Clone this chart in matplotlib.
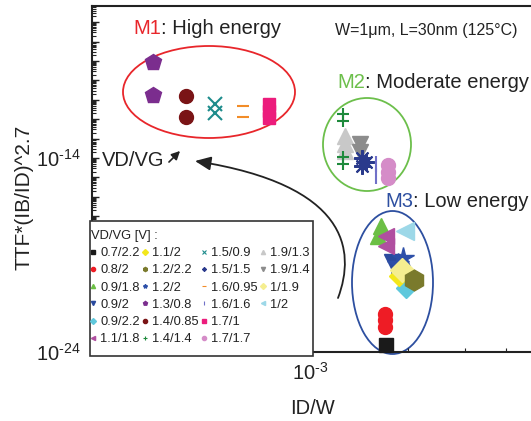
import numpy as np
import matplotlib
matplotlib.use('Agg')
import matplotlib.pyplot as plt
from matplotlib.lines import Line2D
from matplotlib.patches import Ellipse, FancyArrowPatch, Rectangle
from matplotlib.path import Path
from matplotlib.ticker import LogLocator, FuncFormatter, NullFormatter

plt.rcParams['font.family'] = ['Liberation Sans', 'DejaVu Sans']
plt.rcParams['mathtext.fontset'] = 'custom'
plt.rcParams['mathtext.rm'] = 'Liberation Sans'
plt.rcParams['mathtext.it'] = 'Liberation Sans:italic'
plt.rcParams['mathtext.bf'] = 'Liberation Sans:bold'

# ---------------- data ----------------
labels = ['0.7/2.2', '0.8/2', '0.9/1.8', '0.9/2', '0.9/2.2', '1.1/1.8',
          '1.1/2', '1.2/2.2', '1.2/2', '1.3/0.8', '1.4/0.85', '1.4/1.4',
          '1.5/0.9', '1.5/1.5', '1.6/0.95', '1.6/1.6', '1.7/1', '1.7/1.7',
          '1.9/1.3', '1.9/1.4', '1/1.9', '1/2']

x_vals = [
    [1.71e-3],
    [1.70e-3, 1.70e-3, 1.70e-3],
    [1.65e-3, 1.62e-3],
    [1.79e-3],
    [1.97e-3],
    [1.71e-3, 1.71e-3],
    [1.88e-3],
    [2.09e-3],
    [1.93e-3, 1.87e-3],
    [3.29e-4, 3.29e-4],
    [4.15e-4, 4.15e-4],
    [1.26e-3, 1.26e-3, 1.26e-3, 1.26e-3],
    [5.1e-4, 5.1e-4],
    [1.45e-3, 1.45e-3, 1.49e-3],
    [6.2e-4, 6.2e-4],
    [1.60e-3, 1.60e-3],
    [7.5e-4, 7.5e-4, 7.5e-4],
    [1.74e-3, 1.74e-3, 1.74e-3],
    [1.28e-3, 1.28e-3, 1.28e-3],
    [1.42e-3, 1.42e-3],
    [1.92e-3],
    [1.96e-3],
]

y_vals = [
    [2.3e-24],
    [9.1e-23, 4.5e-23, 1.9e-23],
    [3.1e-18, 9.5e-19],
    [4.4e-20],
    [2.0e-21],
    [9.5e-19, 2.9e-19],
    [8.3e-21],
    [5.1e-21],
    [7.0e-20, 3.5e-20],
    [8.9e-10, 1.8e-11],
    [1.6e-11, 1.3e-12],
    [1.9e-12, 8.1e-13, 1.1e-14, 4.9e-15],
    [6.0e-12, 2.1e-12],
    [1.0e-14, 3.9e-15, 6.2e-15],
    [4.8e-12, 1.3e-12],
    [4.9e-15, 1.2e-15],
    [6.0e-12, 2.6e-12, 1.15e-12],
    [4.4e-15, 1.9e-15, 9.3e-16],
    [1.35e-13, 5.2e-14, 2.3e-14],
    [5.2e-14, 2.0e-14],
    [1.7e-20],
    [1.7e-18],
]

# ---------------- styles ----------------
colors = ['#1a1a1a', '#ee1c25', '#6cbf45', '#2a4a9e', '#5fc8dc', '#b04fa0',
          '#f3e71c', '#7a7a2c', '#2d4fa8', '#7b2d8e', '#7a1416', '#1e8a3c',
          '#1e8c8c', '#2a3a8c', '#f28c28', '#7070c8', '#ec1c7c', '#d58cc8',
          '#c8c8c8', '#8c8c8c', '#f5ee90', '#9dd8e8']
markers = ['s', 'o', '^', 'v', 'D', '<', 'D', 'h', '*', 'p', 'o', '+',
           'x', (8, 2, 0), '_', '|', 's', 'o', '^', 'v', 'D', '<']
msizes = [10, 10, 12, 12, 10, 12, 10, 15, 16, 12, 10, 9,
          10, 12, 9, 12, 9, 10, 12, 12, 12, 13]
zorders = [3, 3, 3, 3, 3, 4, 4, 6, 3, 3, 3, 3,
           3, 4, 3, 3, 3, 3, 2, 3, 5, 3]
line_markers = {'+', 'x', '_', '|'}

W, H = 531, 421
fig = plt.figure(figsize=(W / 100, H / 100), dpi=100)
ax = fig.add_axes([92 / W, (H - 352) / H, (W - 92) / W, 346 / H])


def fx(px):
    return px / W


def fy(py):
    return 1 - py / H


for lab, xs, ys, c, m, s, z in zip(labels, x_vals, y_vals, colors, markers, msizes, zorders):
    if m in line_markers or isinstance(m, tuple):
        ax.plot(xs, ys, ls='none', marker=m, color=c, markersize=s, mew=1.5, zorder=z, clip_on=False)
    else:
        ax.plot(xs, ys, ls='none', marker=m, color=c, mec=c, markersize=s, zorder=z, clip_on=False)

ax.set_xscale('log')
ax.set_yscale('log')
ax.set_xlim(10 ** -3.671, 10 ** -2.32)
ax.set_ylim(1e-24, 10 ** -6.165)

ax.yaxis.set_major_locator(LogLocator(base=10, numticks=100))
ax.yaxis.set_minor_locator(LogLocator(base=10, subs=np.arange(2, 10), numticks=100))
ax.xaxis.set_major_locator(LogLocator(base=10, numticks=100))
ax.xaxis.set_minor_locator(LogLocator(base=10, subs=np.arange(2, 10), numticks=100))


def yfmt(v, pos):
    e = int(round(np.log10(v)))
    return r'$10^{\text{-}%d}$' % (-e) if e in (-14, -24) else ''


ax.yaxis.set_major_formatter(FuncFormatter(yfmt))
ax.yaxis.set_minor_formatter(NullFormatter())
ax.xaxis.set_major_formatter(FuncFormatter(lambda v, p: r'$10^{\text{-}%d}$' % (-int(round(np.log10(v))))))
ax.xaxis.set_minor_formatter(NullFormatter())

ax.tick_params(which='both', direction='in', top=False, right=False, colors='#222222',
               labelsize=14.5)
ax.tick_params(which='major', length=5, width=1)
ax.tick_params(which='minor', length=3, width=0.8)
ax.tick_params(axis='y', pad=8)
ax.tick_params(axis='x', pad=7)
for sp in ['left', 'bottom', 'top']:
    ax.spines[sp].set_linewidth(1.5)
    ax.spines[sp].set_color('#222222')
ax.spines['right'].set_visible(False)

fig.text(fx(24), fy(197), 'TTF*(IB/ID)^2.7', rotation=90, ha='center', va='center',
         fontsize=15, color='#222222')
fig.text(fx(312), fy(408), 'ID/W', ha='center', va='center', fontsize=14.5, color='#222222')


# ---------------- ellipses ----------------
def axell(cx, cy, w, h, col):
    e = Ellipse(((cx - 92) / (W - 92), (352 - cy) / 346), w / (W - 92), h / 346,
                transform=ax.transAxes, fill=False, edgecolor=col, lw=1.3, zorder=1, clip_on=False)
    ax.add_patch(e)


axell(209, 92, 172, 92, '#e8262b')
axell(367, 144.5, 88, 93, '#6cbf4b')
axell(392.5, 282.5, 81, 143, '#2d4fa0')


# ---------------- titles ----------------
def two_color(px, py, first, rest, col, fs):
    t1 = fig.text(fx(px), fy(py), first, color=col, fontsize=fs, ha='left', va='center')
    fig.canvas.draw()
    ax.annotate(rest, xy=(1, 0), xycoords=t1, va='bottom', ha='left', fontsize=fs,
                color='#222222', annotation_clip=False)


two_color(133, 28, 'M1', ': High energy', '#e8262b', 14.5)
two_color(337, 83, 'M2', ': Moderate energy', '#6cbf4b', 14.5)
two_color(385, 201, 'M3', ': Low energy', '#2d4fa0', 14.5)

fig.text(fx(335), fy(30), 'W=1\u03bcm, L=30nm (125\u00b0C)', ha='left', va='center',
         fontsize=11.5, color='#222222')

fig.text(fx(102), fy(160), 'VD/VG', ha='left', va='center', fontsize=14.5, color='#222222')
fig.add_artist(FancyArrowPatch((fx(167), fy(164)), (fx(182), fy(149)), transform=fig.transFigure,
                               arrowstyle='-|>,head_length=0.5,head_width=0.25',
                               mutation_scale=10, lw=1.2, color='#222222'))

verts = [(fx(338), fy(298)), (fx(356), fy(250)), (fx(348), fy(185)), (fx(195), fy(161))]
curve = Path(verts, [Path.MOVETO, Path.CURVE4, Path.CURVE4, Path.CURVE4])
fig.add_artist(FancyArrowPatch(path=curve, transform=fig.transFigure,
                               arrowstyle='-|>,head_length=0.8,head_width=0.35',
                               mutation_scale=12, lw=1.3, color='#222222'))

# ---------------- legend ----------------
fig.add_artist(Rectangle((fx(90), fy(356)), (313 - 90) / W, (356 - 221) / H,
                         transform=fig.transFigure, facecolor='white', edgecolor='#333333',
                         lw=1.2, zorder=4))
handles = []
for c, m in zip(colors, markers):
    if m in line_markers or isinstance(m, tuple):
        handles.append(Line2D([], [], ls='none', marker=m, color=c, markersize=3, mew=0.8))
    else:
        handles.append(Line2D([], [], ls='none', marker=m, color=c, mec=c, markersize=3))
leg_handles = handles + [Line2D([], [], ls='none'), Line2D([], [], ls='none')]
leg_labels = labels + ['', '']
leg = fig.legend(leg_handles, leg_labels, loc='upper left',
                 bbox_to_anchor=(fx(91), fy(230)), bbox_transform=fig.transFigure,
                 ncol=4, fontsize=9.3, title='VD/VG [V] :', title_fontsize=9.3,
                 alignment='left', frameon=False, borderpad=0,
                 handlelength=0.3, handletextpad=0.4, columnspacing=0.25,
                 labelspacing=0.4, borderaxespad=0)
leg.set_zorder(5)
for t in leg.get_texts():
    t.set_color('#222222')
leg.get_title().set_color('#222222')

fig.savefig('out.png', dpi=100)
